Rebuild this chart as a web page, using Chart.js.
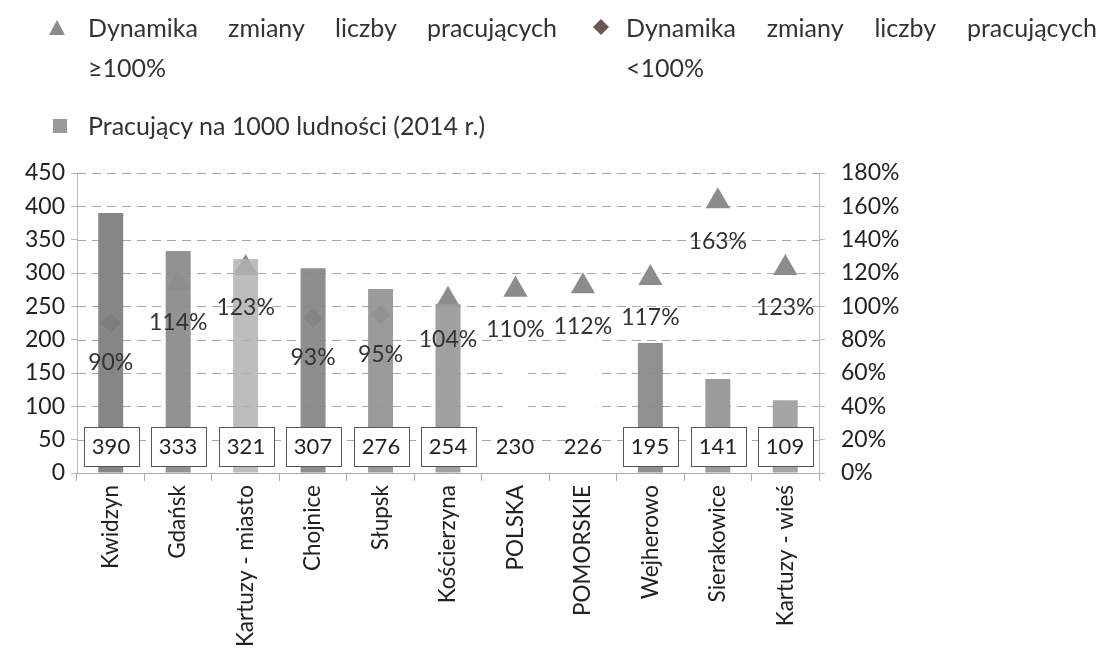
<!DOCTYPE html>
<html>
<head>
<meta charset="utf-8">
<script src="https://cdn.jsdelivr.net/npm/chart.js@4"></script>
<style>
  body { margin: 0; background: #fff; font-family: Lato, sans-serif; color: #333; }
  #wrap { position: relative; width: 1104px; height: 657px; }
  canvas { position: absolute; left: 0; top: 0; }
  .leg { position: absolute; font-size: 25px; line-height: 40px; }
  .row { display: flex; justify-content: space-between; }
  .leg svg { position: absolute; }
</style>
</head>
<body>
<div id="wrap">
  <canvas id="chart" width="1104" height="657"></canvas>
  <div class="leg" style="left:88px; top:7px; width:469px;">
    <svg style="left:-40px; top:12px" width="18" height="18"><polygon points="9,1 17,16 1,16" fill="#8c8c8c"/></svg>
    <div class="row"><span>Dynamika</span><span>zmiany</span><span>liczby</span><span>pracujących</span></div>
    <div>≥100%</div>
  </div>
  <div class="leg" style="left:626px; top:7px; width:471px;">
    <svg style="left:-34px; top:11px" width="18" height="18"><polygon points="9,1 17,9 9,17 1,9" fill="#6a5656"/></svg>
    <div class="row"><span>Dynamika</span><span>zmiany</span><span>liczby</span><span>pracujących</span></div>
    <div>&lt;100%</div>
  </div>
  <div class="leg" style="left:88px; top:105px;">
    <svg style="left:-36px; top:13px" width="16" height="16"><rect x="1" y="1" width="14" height="14" fill="#9a9a9a"/></svg>
    <div>Pracujący na 1000 ludności (2014 r.)</div>
  </div>
</div>
<script>
const categories = ['Kwidzyn', 'Gdańsk', 'Kartuzy - miasto', 'Chojnice', 'Słupsk', 'Kościerzyna',
  'POLSKA', 'POMORSKIE', 'Wejherowo', 'Sierakowice', 'Kartuzy - wieś'];
const employedPer1000 = [390, 333, 321, 307, 276, 254, 230, 226, 195, 141, 109];
const dynamicsHigh = [null, 114, 123, null, null, 104, 110, 112, 117, 163, 123];
const dynamicsLow = [90, null, null, 93, 95, null, null, null, null, null, null];
const leftTicks = [0, 50, 100, 150, 200, 250, 300, 350, 400, 450];
const rightTicks = [0, 20, 40, 60, 80, 100, 120, 140, 160, 180];

const barColors = ['rgba(128,128,128,0.95)', 'rgba(142,142,142,0.96)', 'rgba(178,178,178,0.85)',
  'rgba(136,136,136,0.95)', 'rgba(150,150,150,0.95)', 'rgba(155,155,155,0.95)', '#ffffff', '#ffffff',
  'rgba(138,138,138,0.95)', 'rgba(150,150,150,0.95)', 'rgba(160,160,160,0.95)'];
const boxed = [true, true, true, true, true, true, false, false, true, true, true];

const labelPlugin = {
  id: 'labels',
  afterDatasetsDraw(chart) {
    const ctx = chart.ctx;
    const x = chart.scales.x, y = chart.scales.y, y1 = chart.scales.y1;
    ctx.save();
    ctx.font = '22px Lato';
    ctx.textAlign = 'center';
    ctx.textBaseline = 'middle';
    const baseY = y.getPixelForValue(0) - 27;
    employedPer1000.forEach((v, i) => {
      const cx = Math.round(x.getPixelForValue(i));
      if (boxed[i]) {
        ctx.fillStyle = '#fff';
        ctx.fillRect(cx - 27, baseY - 19, 55, 39);
        ctx.strokeStyle = '#555';
        ctx.lineWidth = 1;
        ctx.strokeRect(cx - 27 + 0.5, Math.round(baseY - 19) + 0.5, 55, 39);
      }
      ctx.fillStyle = '#222';
      ctx.fillText(String(v), cx, baseY + 1);
    });
    ctx.font = '23px Lato';
    ctx.fillStyle = '#333';
    [dynamicsHigh, dynamicsLow].forEach(arr => arr.forEach((v, i) => {
      if (v == null) return;
      ctx.fillText(v + '%', x.getPixelForValue(i), y1.getPixelForValue(v) + 40);
    }));
    ctx.restore();
  }
};

new Chart(document.getElementById('chart'), {
  type: 'bar',
  data: {
    labels: categories,
    datasets: [
      {
        label: 'Pracujący na 1000 ludności (2014 r.)',
        data: employedPer1000,
        backgroundColor: barColors,
        barPercentage: 0.37,
        categoryPercentage: 1,
        yAxisID: 'y',
        order: 0
      },
      {
        type: 'line',
        label: 'Dynamika zmiany liczby pracujących ≥100%',
        data: dynamicsHigh,
        showLine: false,
        pointStyle: 'triangle',
        pointRadius: 14,
        pointBackgroundColor: '#8c8c8c',
        pointBorderWidth: 0,
        yAxisID: 'y1',
        order: 1
      },
      {
        type: 'line',
        label: 'Dynamika zmiany liczby pracujących <100%',
        data: dynamicsLow,
        showLine: false,
        pointStyle: 'rectRot',
        pointRadius: 10,
        pointBackgroundColor: '#6a5656',
        pointBorderWidth: 0,
        yAxisID: 'y1',
        order: 1
      }
    ]
  },
  options: {
    responsive: false,
    animation: false,
    layout: { padding: { top: 173, left: 0, right: 0, bottom: 0 } },
    plugins: { legend: { display: false }, tooltip: { enabled: false } },
    scales: {
      x: {
        grid: { drawOnChartArea: false, tickLength: 8, color: '#aaa' },
        border: { color: '#aaa' },
        ticks: { minRotation: 90, maxRotation: 90, color: '#222', font: { family: 'Lato', size: 22.5 }, padding: 4 },
        afterFit: s => { s.height = 184; }
      },
      y: {
        position: 'left',
        min: 0, max: 450,
        afterBuildTicks: s => { s.ticks = leftTicks.map(v => ({ value: v })); },
        grid: { drawOnChartArea: false, color: '#bbb', tickLength: 6 },
        border: { color: '#bbb' },
        ticks: { color: '#222', font: { family: 'Lato', size: 23 }, padding: 6 },
        afterFit: s => { s.width = 77; }
      },
      y1: {
        position: 'right',
        min: 0, max: 180,
        afterBuildTicks: s => { s.ticks = rightTicks.map(v => ({ value: v })); },
        grid: { drawOnChartArea: false, tickLength: 6, color: '#bbb' },
        border: { color: '#bbb' },
        ticks: { color: '#222', font: { family: 'Lato', size: 23 }, padding: 16, callback: v => v + '%' },
        afterFit: s => { s.width = 285; }
      }
    }
  },
  plugins: [labelPlugin, {
    id: 'dashGrid',
    beforeDatasetsDraw(chart) {
      const { ctx, chartArea, scales } = chart;
      ctx.save();
      ctx.strokeStyle = '#a8a8a8';
      ctx.lineWidth = 1;
      ctx.setLineDash([9, 6]);
      leftTicks.forEach(v => {
        if (v === 0) return;
        const py = Math.round(scales.y.getPixelForValue(v)) + 0.5;
        ctx.beginPath();
        ctx.moveTo(chartArea.left, py);
        ctx.lineTo(chartArea.right, py);
        ctx.stroke();
      });
      ctx.restore();
    }
  }]
});
</script>
</body>
</html>
